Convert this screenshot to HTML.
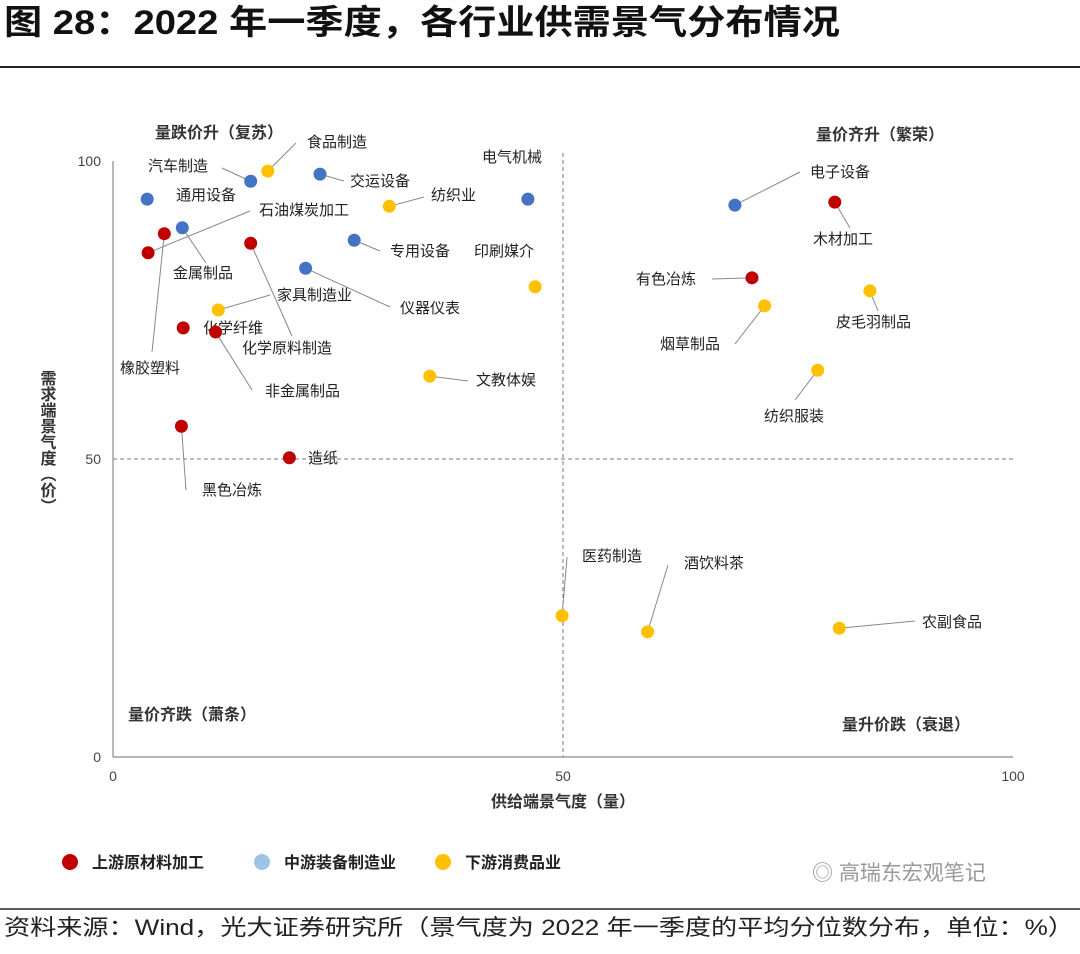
<!DOCTYPE html>
<html><head><meta charset="utf-8">
<style>
body{margin:0;background:#fff;width:1080px;height:949px;overflow:hidden;font-family:"Liberation Sans","Noto Sans CJK SC",sans-serif;}
svg text{font-family:"Liberation Sans","Noto Sans CJK SC",sans-serif;}
</style></head>
<body>
<svg id="chart" width="1080" height="949">
<text x="4" y="34" font-size="34" font-weight="bold" fill="#111" textLength="836" lengthAdjust="spacingAndGlyphs">图 28：2022 年一季度，各行业供需景气分布情况</text>
<line x1="0" y1="67" x2="1080" y2="67" stroke="#222" stroke-width="2"/>
<line x1="0" y1="909" x2="1080" y2="909" stroke="#222" stroke-width="1.5"/>
<text x="4" y="935" font-size="22" fill="#222" textLength="1070" lengthAdjust="spacingAndGlyphs">资料来源：Wind，光大证券研究所（景气度为 2022 年一季度的平均分位数分布，单位：%）</text>
<text x="812" y="880" font-size="21" fill="#999">◎ 高瑞东宏观笔记</text>
<g id="plot"></g>
</svg>
<script>
const categories=["石油煤炭加工","橡胶塑料","化学原料制造","化学纤维","非金属制品","黑色冶炼","造纸","有色冶炼","木材加工",
"汽车制造","交运设备","通用设备","金属制品","专用设备","仪器仪表","电气机械","电子设备",
"食品制造","纺织业","家具制造业","印刷媒介","文教体娱","烟草制品","皮毛羽制品","纺织服装","医药制造","酒饮料茶","农副食品"];
const supplyValues=[3.9,5.7,15.3,7.8,11.4,7.6,19.6,71,80.2, 15.3,23,3.8,7.7,26.8,21.4,46.1,69.1, 17.2,30.7,11.7,46.9,35.2,72.4,84.1,78.3,49.9,59.4,80.7];
const demandValues=[84.6,87.8,86.2,72,71.3,55.5,50.2,80.4,93.1, 96.6,97.8,93.6,88.8,86.7,82,93.6,92.6, 98.3,92.4,75,78.9,63.9,75.7,78.2,64.9,23.7,21,21.6];
const groups=[0,0,0,0,0,0,0,0,0, 1,1,1,1,1,1,1,1, 2,2,2,2,2,2,2,2,2,2,2];
const groupNames=["上游原材料加工","中游装备制造业","下游消费品业"];
const xTicks=[0,50,100];
const yTicks=[0,50,100];
// label layout: [labelX,labelY,leaderEndX,leaderEndY] (pixels, styling only)
const labelLayout=[[259,210,250,211],[120,368,152,352],[242,348,292,336],[203,328,null,null],[265,391,252,390],[202,490,186,490],[308,458,null,null],[636,279,712,279],[813,239,850,228],
[148,166,222,168],[350,181,344,181],[176,195,null,null],[173,273,206,263],[390,251,380,251],[400,308,390,307],[482,157,null,null],[810,172,800,172],
[307,142,296,143],[431,195,424,197],[277,295,270,295],[474,251,null,null],[476,380,468,381],[660,344,735,344],[836,322,878,311],[764,416,795,400],[582,556,567,557],[684,563,668,565],[922,622,915,621]];
const colors=["#c00000","#4472c4","#ffc000"];
const legendColors=["#c00000","#9dc3e6","#ffc000"];
const X0=113,X1=1013,Y0=757,Y1=161;
const sx=v=>X0+(X1-X0)*v/100, sy=v=>Y0-(Y0-Y1)*v/100;
const NS="http://www.w3.org/2000/svg";
const g=document.getElementById('plot');
function mk(tag,attrs,text){const e=document.createElementNS(NS,tag);for(const k in attrs)e.setAttribute(k,attrs[k]);if(text!=null)e.textContent=text;g.appendChild(e);return e;}
let e;
e=mk('line',{x1:sx(50),y1:153,x2:sx(50),y2:Y0,stroke:"#777","stroke-dasharray":"4,3"});


e=mk('line',{x1:X0,y1:sy(50),x2:1016,y2:sy(50),stroke:"#777","stroke-dasharray":"4,3"});


e=mk('line',{x1:X0,y1:Y1,x2:X0,y2:Y0,stroke:"#888","stroke-width":1.2});


e=mk('line',{x1:X0,y1:Y0,x2:X1,y2:Y0,stroke:"#888","stroke-width":1.2});


xTicks.forEach(t=>{e=mk('text',{x:sx(t),y:781,"font-size":14,"text-anchor":"middle",fill:"#444"},t);

});
yTicks.forEach(t=>{e=mk('text',{x:X0-12,y:sy(t)+5,"font-size":14,"text-anchor":"end",fill:"#444"},t);

});
e=mk('text',{x:sx(50),y:807,"font-size":16,"font-weight":"bold","text-anchor":"middle",fill:"#333"},"供给端景气度（量）");


e=mk('text',{x:46,y:370,"font-size":16,"font-weight":"bold","text-anchor":"start",fill:"#333","writing-mode":"tb","glyph-orientation-vertical":"0"},"需求端景气度（价）");


[["量跌价升（复苏）",155,138],["量价齐升（繁荣）",816,140],["量价齐跌（萧条）",128,720],["量升价跌（衰退）",842,730]].forEach(q=>{
e=mk('text',{x:q[1],y:q[2],"font-size":16,"font-weight":"bold",fill:"#333"},q[0]);

});
categories.forEach((c,i)=>{
const px=sx(supplyValues[i]),py=sy(demandValues[i]),L=labelLayout[i];
if(L[2]!=null){e=mk('line',{x1:px,y1:py,x2:L[2],y2:L[3],stroke:"#888","stroke-width":1});

}
e=mk('circle',{cx:px,cy:py,r:6.5,fill:colors[groups[i]]});


e=mk('text',{x:L[0],y:L[1]+5,"font-size":15,fill:"#222"},c);


});
const legX=[70,262,443];
groupNames.forEach((n,i)=>{
e=mk('circle',{cx:legX[i],cy:862,r:8,fill:legendColors[i]});


e=mk('text',{x:legX[i]+22,y:868,"font-size":16,"font-weight":"bold",fill:"#222"},n);


});
</script>
</body></html>
